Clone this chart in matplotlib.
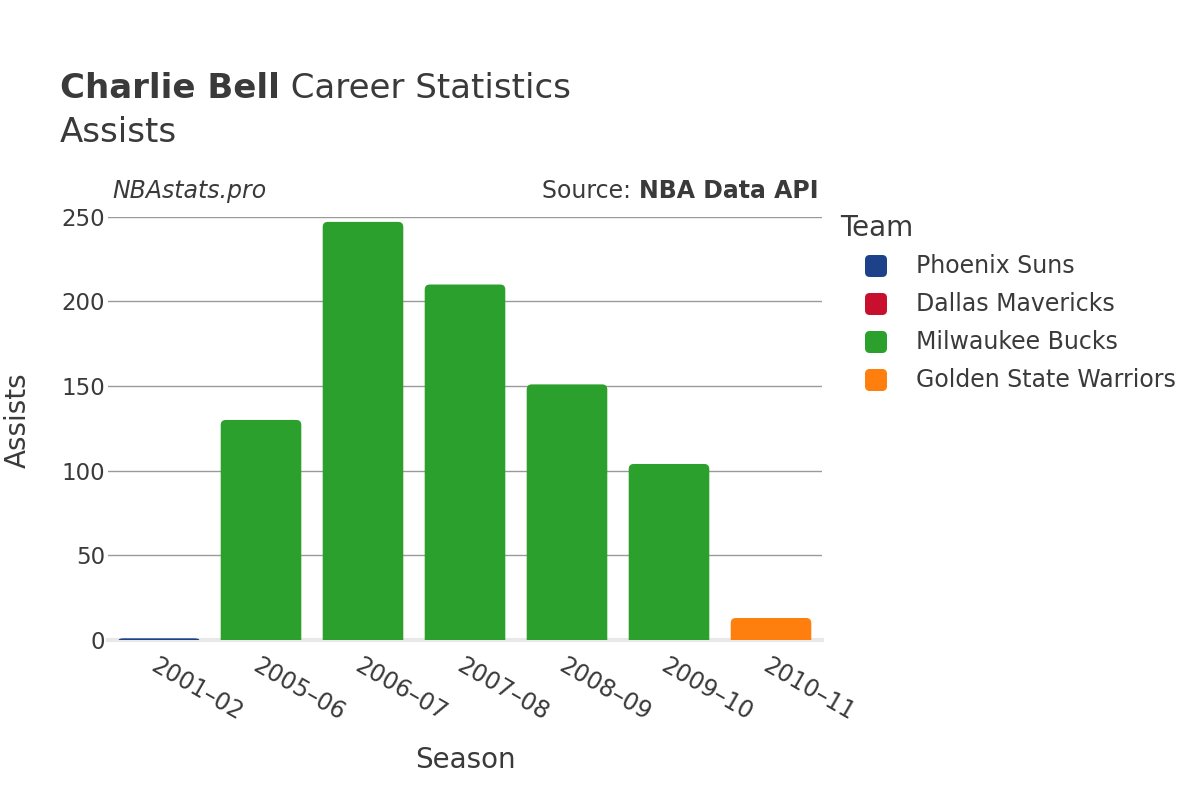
import matplotlib.pyplot as plt
from matplotlib.patches import FancyBboxPatch

seasons = ["2001-02", "2005-06", "2006-07", "2007-08", "2008-09", "2009-10", "2010-11"]
teams = ["Phoenix Suns", "Dallas Mavericks", "Milwaukee Bucks", "Golden State Warriors"]
team_colors = ["#1d428a", "#c8102e", "#2ca02c", "#ff7f0e"]
# team of each bar, and assists
bar_team = ["Phoenix Suns", "Dallas Mavericks", "Milwaukee Bucks", "Milwaukee Bucks",
            "Milwaukee Bucks", "Milwaukee Bucks", "Milwaukee Bucks", "Golden State Warriors"]
bar_season = ["2001-02", "2001-02", "2005-06", "2006-07", "2007-08", "2008-09", "2009-10", "2010-11"]
assists = [1, 0, 130, 247, 210, 151, 104, 13]

text_color = "#3a3a3a"
plt.rcParams['font.family'] = ['DejaVu Sans']

fig = plt.figure(figsize=(12, 8), dpi=100)
ax = fig.add_axes([0.09, 0.2, 0.595, 0.529])

color_of = dict(zip(teams, team_colors))
width = 0.79
ymax = 250
ax.set_xlim(-0.5, len(seasons) - 0.5)
ax.set_ylim(0, ymax)

# rounded-top bars: box starts below zero and is clipped by the axes
rx = 0.05
for s, t, v in zip(bar_season, bar_team, assists):
    if v <= 0:
        continue
    x = seasons.index(s)
    asp = 60 if v > 5 else 20
    ry = rx * asp
    box = FancyBboxPatch((x - width / 2, -ry), width, v + ry,
                         boxstyle=f"round,pad=0,rounding_size={rx}", mutation_aspect=asp,
                         facecolor=color_of[t], edgecolor="none", zorder=3)
    ax.add_patch(box)

ax.set_yticks([0, 50, 100, 150, 200, 250])
ax.yaxis.grid(True, color="#9a9a9a", linewidth=1)
ax.set_axisbelow(True)
for s in ["top", "right", "left"]:
    ax.spines[s].set_visible(False)
ax.spines["bottom"].set_color("#e8e8e8")
ax.spines["bottom"].set_linewidth(3)
ax.spines["bottom"].set_zorder(2.5)
ax.tick_params(axis="both", length=0, colors=text_color)
ax.tick_params(axis="y", labelsize=16.5, pad=2)
ax.set_xticks(range(len(seasons)))
ax.set_xticklabels([s.replace("-", "\u2013") for s in seasons], rotation=-30,
                   ha="left", va="top", rotation_mode="anchor", fontsize=17)
ax.tick_params(axis="x", pad=10)

fig.text(0.015, 0.475, "Assists", rotation=90, fontsize=20, color=text_color,
         va="center", ha="center")
fig.text(0.3875, 0.05, "Season", fontsize=20, color=text_color, va="center", ha="center")

renderer = fig.canvas.get_renderer()
t1 = fig.text(0.05, 0.889, "Charlie Bell", fontsize=24.5, fontweight="bold",
              color=text_color, va="center")
bb = t1.get_window_extent(renderer)
fig.text(bb.x1 / fig.bbox.width, 0.889, " Career Statistics", fontsize=24.5,
         color=text_color, va="center")
fig.text(0.05, 0.834, "Assists", fontsize=24.5, color=text_color, va="center")

fig.text(0.094, 0.761, "NBAstats.pro", fontsize=17, style="italic", color=text_color, va="center")
t2 = fig.text(0.682, 0.761, "NBA Data API", fontsize=17, fontweight="bold", color=text_color,
              va="center", ha="right")
bb = t2.get_window_extent(renderer)
fig.text(bb.x0 / fig.bbox.width, 0.761, "Source: ", fontsize=17, color=text_color,
         va="center", ha="right")

# legend
fig.text(840 / 1200, 1 - 228 / 800, "Team", fontsize=20, color=text_color, va="center")
for i, (team, c) in enumerate(zip(teams, team_colors)):
    yc = 1 - (266 + 38 * i) / 800
    sq = FancyBboxPatch((865 / 1200, yc - 11 / 800), 22 / 1200, 22 / 800,
                        boxstyle="round,pad=0,rounding_size=0.004", mutation_aspect=1.5,
                        transform=fig.transFigure, facecolor=c, edgecolor="none")
    fig.add_artist(sq)
    fig.text(916 / 1200, yc, team, fontsize=17, color=text_color, va="center")

fig.savefig("out.png", dpi=100)
